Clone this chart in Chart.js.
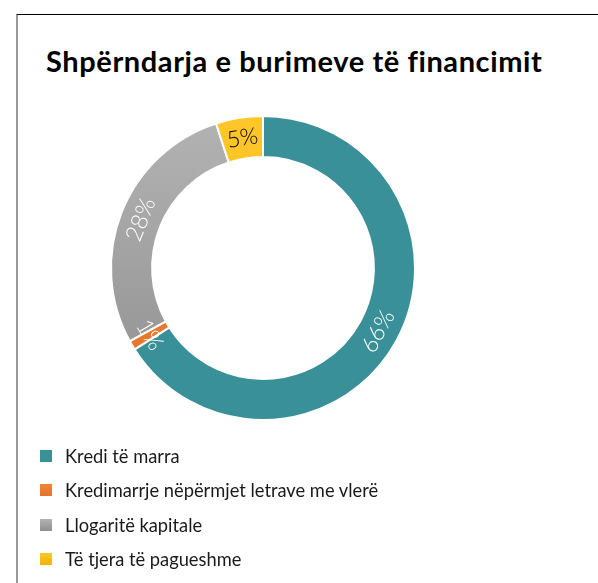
<!DOCTYPE html>
<html>
<head>
<meta charset="utf-8">
<script src="https://cdn.jsdelivr.net/npm/chart.js@4/dist/chart.umd.min.js"></script>
<style>
  html, body { margin: 0; padding: 0; background: #fff; width: 598px; height: 583px; overflow: hidden; }
  #frame { position: absolute; left: 16px; top: 14px; width: 582px; height: 569px;
           border-top: 1px solid #000; border-left: 2px solid #9a9a9a; box-sizing: border-box; }
  #title { position: absolute; left: 46px; top: 41px; margin: 0; font-family: Lato, "Open Sans", sans-serif;
           font-weight: 700; font-size: 29px; line-height: 40px; color: #000; white-space: nowrap; letter-spacing: 0.6px; }
  #wrap { position: absolute; left: 0; top: 0; width: 598px; height: 583px; }
  #legend { position: absolute; left: 40px; top: 445px; margin: 0; padding: 0; list-style: none;
            font-family: Lato, "Open Sans", sans-serif; font-size: 18.3px; color: #1a1a1a; }
  #legend li { height: 34.3px; display: flex; align-items: flex-start; white-space: nowrap; line-height: 22px; }
  #legend .box { width: 12px; height: 12px; margin-top: 5px; margin-right: 13px; flex: none; }
</style>
</head>
<body>
<div id="frame"></div>
<h1 id="title">Shpërndarja e burimeve të financimit</h1>
<div id="wrap"><canvas id="c" width="598" height="583"></canvas></div>
<ul id="legend"></ul>
<script>
const categories = ["Kredi të marra", "Kredimarrje nëpërmjet letrave me vlerë", "Llogaritë kapitale", "Të tjera të pagueshme"];
const shares = [66, 1, 28, 5];
const sliceColors = ["#3A9099", "#ED7D31", "#A5A5A5", "#FFC000"];
const gradTop = ["#3A9099", "#F2843A", "#B3B3B3", "#FFC72C"];
const gradBottom = ["#3A9099", "#E5732A", "#8F8F8F", "#F0B400"];
const labelColors = ["#ffffff", "#ffffff", "#ffffff", "#000000"];

function sliceFill(ctx) {
  const chart = ctx.chart;
  const i = ctx.dataIndex;
  const area = chart.chartArea;
  if (!area) return sliceColors[i];
  const cy = (area.top + area.bottom) / 2;
  const g = chart.ctx.createLinearGradient(0, cy - 152, 0, cy + 152);
  g.addColorStop(0, gradTop[i]);
  g.addColorStop(1, gradBottom[i]);
  return g;
}

const arcLabels = {
  id: 'arcLabels',
  afterDatasetsDraw(chart) {
    const ctx = chart.ctx;
    const meta = chart.getDatasetMeta(0);
    const data = chart.data.datasets[0].data;
    const total = data.reduce((a, b) => a + b, 0);
    ctx.save();
    ctx.font = '300 23px Lato, "Open Sans", sans-serif';
    ctx.textAlign = 'center';
    ctx.textBaseline = 'middle';
    meta.data.forEach((arc, i) => {
      const p = arc.getProps(['x', 'y', 'startAngle', 'endAngle', 'innerRadius', 'outerRadius'], true);
      const mid = (p.startAngle + p.endAngle) / 2;
      const r = (p.innerRadius + p.outerRadius) / 2;
      const x = p.x + r * Math.cos(mid);
      const y = p.y + r * Math.sin(mid);
      let rot = mid + Math.PI / 2;
      while (rot > Math.PI / 2) rot -= Math.PI;
      while (rot <= -Math.PI / 2) rot += Math.PI;
      ctx.save();
      ctx.translate(x, y);
      ctx.rotate(rot);
      ctx.fillStyle = labelColors[i];
      ctx.fillText(Math.round(data[i] / total * 100) + '%', 0, 0);
      ctx.restore();
    });
    ctx.restore();
  }
};

const chart = new Chart(document.getElementById('c'), {
  type: 'doughnut',
  data: {
    labels: categories,
    datasets: [{
      data: shares,
      backgroundColor: sliceFill,
      borderColor: '#ffffff',
      borderWidth: 2,
      hoverOffset: 0
    }]
  },
  options: {
    responsive: false,
    animation: false,
    radius: 152,
    cutout: 116,
    layout: { padding: { left: 63, right: 135, top: 108, bottom: 155 } },
    plugins: {
      legend: { display: false },
      title: { display: false },
      tooltip: { enabled: false }
    }
  },
  plugins: [arcLabels]
});

const legendEl = document.getElementById('legend');
categories.forEach((name, i) => {
  const li = document.createElement('li');
  const box = document.createElement('span');
  box.className = 'box';
  box.style.background = 'linear-gradient(' + gradTop[i] + ',' + gradBottom[i] + ')';
  const txt = document.createElement('span');
  txt.textContent = name;
  li.appendChild(box);
  li.appendChild(txt);
  legendEl.appendChild(li);
});
</script>
</body>
</html>
